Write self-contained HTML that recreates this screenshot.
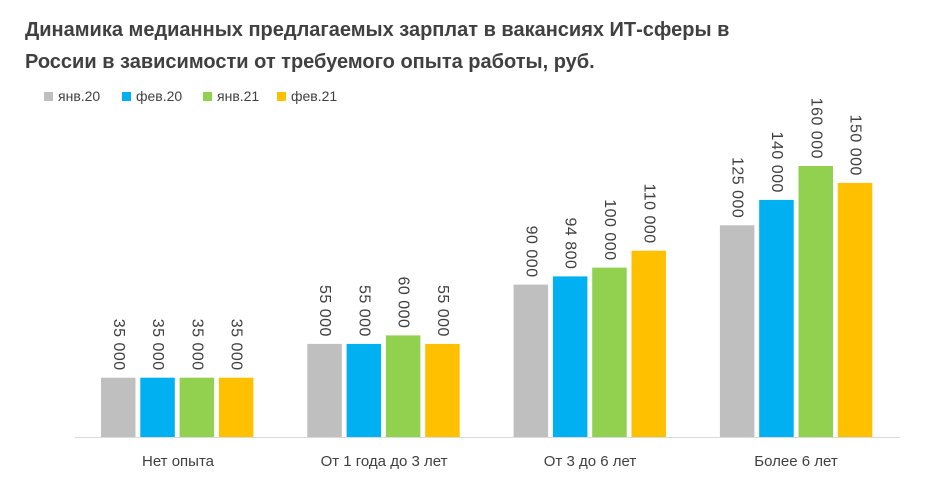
<!DOCTYPE html>
<html><head><meta charset="utf-8"><style>
body{margin:0;background:#fff;width:932px;height:490px;overflow:hidden}
svg text{font-family:"Liberation Sans","DejaVu Sans",sans-serif;fill:#404040}
</style></head><body>
<svg width="932" height="490" xmlns="http://www.w3.org/2000/svg">
<text x="25" y="36" font-size="20" font-weight="bold" fill="#555">Динамика медианных предлагаемых зарплат в вакансиях ИТ-сферы в</text>
<text x="25" y="68" font-size="20" font-weight="bold" fill="#555">России в зависимости от требуемого опыта работы, руб.</text>
<g font-size="14">
<rect x="44" y="92" width="9" height="9" fill="#bfbfbf"/><text x="58" y="101">янв.20</text>
<rect x="122" y="92" width="9" height="9" fill="#00b0f0"/><text x="136" y="101">фев.20</text>
<rect x="203" y="92" width="9" height="9" fill="#92d050"/><text x="217" y="101">янв.21</text>
<rect x="277" y="92" width="9" height="9" fill="#ffc000"/><text x="291" y="101">фев.21</text>
</g>
<line x1="75" y1="437.5" x2="900" y2="437.5" stroke="#d9d9d9" stroke-width="1"/>
<g>
<rect x="101" y="377.7" width="34.5" height="59.3" fill="#bfbfbf"/>
<rect x="140.3" y="377.7" width="34.5" height="59.3" fill="#00b0f0"/>
<rect x="179.6" y="377.7" width="34.5" height="59.3" fill="#92d050"/>
<rect x="218.9" y="377.7" width="34.5" height="59.3" fill="#ffc000"/>
<rect x="307.3" y="343.9" width="34.5" height="93.1" fill="#bfbfbf"/>
<rect x="346.6" y="343.9" width="34.5" height="93.1" fill="#00b0f0"/>
<rect x="385.9" y="335.4" width="34.5" height="101.6" fill="#92d050"/>
<rect x="425.2" y="343.9" width="34.5" height="93.1" fill="#ffc000"/>
<rect x="513.6" y="284.6" width="34.5" height="152.4" fill="#bfbfbf"/>
<rect x="552.9" y="276.4" width="34.5" height="160.6" fill="#00b0f0"/>
<rect x="592.2" y="267.6" width="34.5" height="169.4" fill="#92d050"/>
<rect x="631.5" y="250.7" width="34.5" height="186.3" fill="#ffc000"/>
<rect x="719.9" y="225.3" width="34.5" height="211.7" fill="#bfbfbf"/>
<rect x="759.2" y="199.9" width="34.5" height="237.1" fill="#00b0f0"/>
<rect x="798.5" y="166" width="34.5" height="271" fill="#92d050"/>
<rect x="837.8" y="182.9" width="34.5" height="254.1" fill="#ffc000"/>
</g>
<g font-size="16" text-anchor="end" dominant-baseline="middle" letter-spacing="0.5">
<text transform="translate(118,370.7) rotate(90)">35 000</text>
<text transform="translate(157.3,370.7) rotate(90)">35 000</text>
<text transform="translate(196.6,370.7) rotate(90)">35 000</text>
<text transform="translate(235.9,370.7) rotate(90)">35 000</text>
<text transform="translate(324.3,336.9) rotate(90)">55 000</text>
<text transform="translate(363.6,336.9) rotate(90)">55 000</text>
<text transform="translate(402.9,328.4) rotate(90)">60 000</text>
<text transform="translate(442.2,336.9) rotate(90)">55 000</text>
<text transform="translate(530.6,277.6) rotate(90)">90 000</text>
<text transform="translate(569.9,269.4) rotate(90)">94 800</text>
<text transform="translate(609.2,260.6) rotate(90)">100 000</text>
<text transform="translate(648.5,243.7) rotate(90)">110 000</text>
<text transform="translate(736.9,218.3) rotate(90)">125 000</text>
<text transform="translate(776.2,192.9) rotate(90)">140 000</text>
<text transform="translate(815.5,159) rotate(90)">160 000</text>
<text transform="translate(854.8,175.9) rotate(90)">150 000</text>
</g>
<g font-size="15" text-anchor="middle">
<text x="178" y="466">Нет опыта</text>
<text x="384" y="466">От 1 года до 3 лет</text>
<text x="590" y="466">От 3 до 6 лет</text>
<text x="796" y="466">Более 6 лет</text>
</g>
</svg>
</body></html>
